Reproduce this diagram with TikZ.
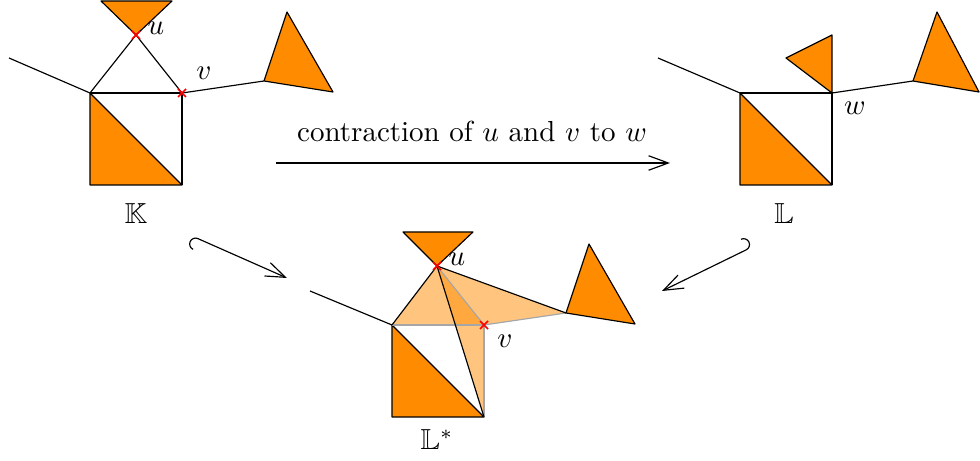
\documentclass[tikz,border=0pt]{standalone}
\usepackage{amssymb}
\usetikzlibrary{arrows.meta}
\definecolor{dorange}{RGB}{255,140,0}
\begin{document}
\begin{tikzpicture}[x=0.345pt,y=-0.345pt,
  fillo/.style={fill=dorange,draw=black,line join=round},
  lighto/.style={fill=dorange,fill opacity=0.5,draw=none},
  grayedge/.style={draw=black!35},
  vcross/.style={red,line width=0.6pt},
  lbl/.style={inner sep=0pt},
  maparrow/.style={-{Straight Barb[length=6.8pt,width=5pt]}},
  hookarrow/.style={{Hooks[left,length=2.2pt,width=8.5pt]}-{Straight Barb[length=6.8pt,width=5pt]}}]
\useasboundingbox (0,0) rectangle (980,461);

% ---------------- K ----------------
\coordinate (Ka) at (90,93);
\coordinate (Kb) at (182,93);
\coordinate (Kc) at (182,185);
\coordinate (Kd) at (90,185);
\coordinate (Ku) at (136,35);
\coordinate (Kv) at (182,93);
\coordinate (Kt1) at (101,1);
\coordinate (Kt2) at (172,1);
\coordinate (Kl) at (9,58);
\coordinate (Kr) at (264,81);
\coordinate (Kr2) at (287,12);
\coordinate (Kr3) at (333,92);
\draw[fillo] (Ka) -- (Kd) -- (Kc) -- cycle;
\draw (Ka) -- (Kb) -- (Kc);
\draw (Ka) -- (Ku) -- (Kv);
\draw[fillo] (Kt1) -- (Kt2) -- (Ku) -- cycle;
\draw (Kl) -- (Ka);
\draw (Kv) -- (Kr);
\draw[fillo] (Kr) -- (Kr2) -- (Kr3) -- cycle;
\draw[vcross] (Ku) +(-4,-4) -- +(4,4) (Ku) +(-4,4) -- +(4,-4);
\draw[vcross] (Kv) +(-4,-4) -- +(4,4) (Kv) +(-4,4) -- +(4,-4);
\node[lbl] (Kulab) at (156,28) {$u$};
\node[lbl] (Kvlab) at (204,73) {$v$};
\node[lbl] (Klab) at (136,214) {$\mathbb{K}$};

% ---------------- L ----------------
\coordinate (La) at (740,93);
\coordinate (Lw) at (832,93);
\coordinate (Lc) at (832,185);
\coordinate (Ld) at (740,185);
\coordinate (Ls1) at (786,58);
\coordinate (Ls2) at (832,35);
\coordinate (Ll) at (658,58);
\coordinate (Lr) at (913,81);
\coordinate (Lr2) at (937,12);
\coordinate (Lr3) at (979,92);
\draw[fillo] (La) -- (Ld) -- (Lc) -- cycle;
\draw (La) -- (Lw) -- (Lc);
\draw[fillo] (Lw) -- (Ls1) -- (Ls2) -- cycle;
\draw (Ll) -- (La);
\draw (Lw) -- (Lr);
\draw[fillo] (Lr) -- (Lr2) -- (Lr3) -- cycle;
\node[lbl] (Lwlab) at (855,108) {$w$};
\node[lbl] (Llab) at (784,214) {$\mathbb{L}$};

% ---------------- L* ----------------
\coordinate (Sa) at (392,325);
\coordinate (Sv) at (484,325);
\coordinate (Sc) at (484,417);
\coordinate (Sd) at (392,417);
\coordinate (Su) at (437,266);
\coordinate (St1) at (403,232);
\coordinate (St2) at (473,232);
\coordinate (Sl) at (310,291);
\coordinate (Sr) at (566,313);
\coordinate (Sr2) at (589,244);
\coordinate (Sr3) at (635,324);
\fill[lighto] (Sa) -- (Su) -- (Sv) -- cycle;
\fill[lighto] (Su) -- (Sc) -- (Sv) -- cycle;
\fill[lighto] (Su) -- (Sr) -- (Sv) -- cycle;
\draw[fillo] (Sa) -- (Sd) -- (Sc) -- cycle;
\draw[grayedge] (Sa) -- (Sv) -- (Sc);
\draw[grayedge] (Su) -- (Sv) -- (Sr);
\draw (Sa) -- (Su) -- (Sc);
\draw (Su) -- (Sr);
\draw[fillo] (St1) -- (St2) -- (Su) -- cycle;
\draw (Sl) -- (Sa);
\draw[fillo] (Sr) -- (Sr2) -- (Sr3) -- cycle;
\draw[vcross] (Su) +(-4,-4) -- +(4,4) (Su) +(-4,4) -- +(4,-4);
\draw[vcross] (Sv) +(-4,-4) -- +(4,4) (Sv) +(-4,4) -- +(4,-4);
\node[lbl] (Sulab) at (457,259) {$u$};
\node[lbl] (Svlab) at (505,341) {$v$};
\node[lbl] (Slab) at (437,440) {$\mathbb{L}^*$};

% ---------------- arrows ----------------
\coordinate (A1) at (276,163);
\coordinate (A2) at (670,163);
\draw[maparrow] (A1) -- (A2);
\node[lbl] (ctext) at (472,131) {contraction of $u$ and $v$ to $w$};
\coordinate (H1s) at (192,236);
\coordinate (H1e) at (287,278);
\draw[hookarrow] (H1s) -- (H1e);
\coordinate (H2s) at (752,247);
\coordinate (H2e) at (662,291);
\draw[hookarrow] (H2s) -- (H2e);
\end{tikzpicture}
\end{document}
